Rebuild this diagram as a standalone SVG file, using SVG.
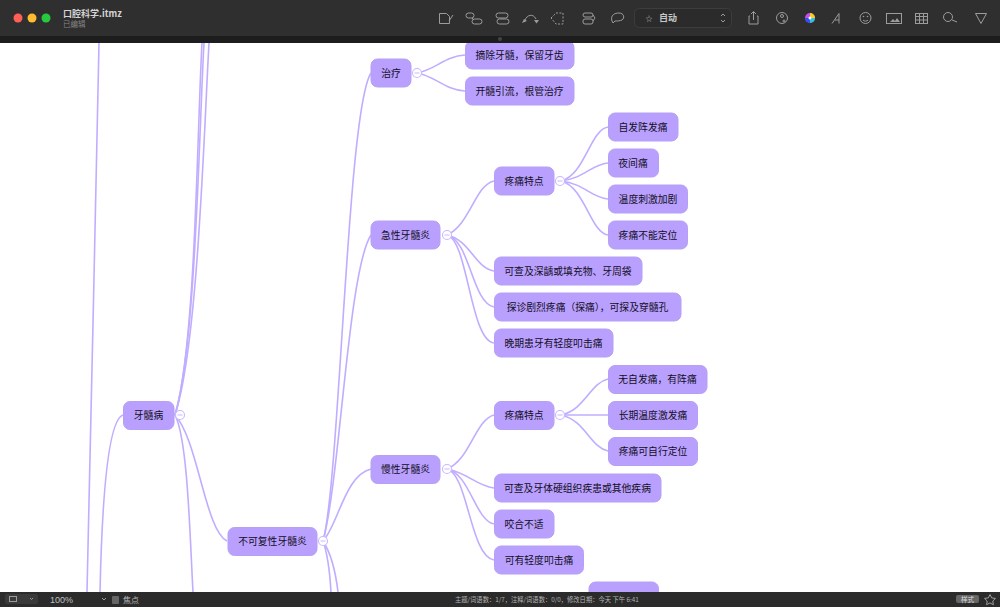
<svg xmlns="http://www.w3.org/2000/svg" width="1000" height="607" viewBox="0 0 1000 607">
<style>
.n{fill:#b9a0ff;stroke:#b5a0f4;stroke-width:1}
.t{font:400 9.800px "Noto Sans CJK SC","Liberation Sans",sans-serif;fill:#120e22;text-anchor:middle}
.c{fill:none;stroke:#c1adff;stroke-width:1.600}
.f{fill:#fff;stroke:#c9b8ff;stroke-width:1.100}
.m{stroke:#c9b8ff;stroke-width:1}
.i{fill:none;stroke:#9c9c9c;stroke-width:1}
.u{font:6.300px "Noto Sans CJK SC","Liberation Sans",sans-serif;fill:#b4b4b4}
</style>
<rect width="1000" height="607" fill="#fff"/>
<g id="connectors">
<path class="c" d="M99 43C96 200 90 450 87 592"/>
<path class="c" d="M123 415C108 420 102 500 100 592"/>
<path class="c" d="M175 415C196 345 197 130 202 43"/>
<path class="c" d="M175 415C196 345 199 130 204 43"/>
<path class="c" d="M175 415C198 345 204 130 209 43"/>
<path class="c" d="M175 415C188 440 190 540 193 592"/>
<path class="c" d="M175 415C198 440 205 530 227 541"/>
<path class="c" d="M323 541C340 480 347 110 371 73"/>
<path class="c" d="M323 541C340 480 348 270 371 235"/>
<path class="c" d="M323 541C338 525 345 475 371 469"/>
<path class="c" d="M323 541C332 555 336 575 338 592"/>
<path class="c" d="M323 541C328 555 330 575 331 592"/>
<path class="c" d="M417 73C435 70 445 56 465 55"/>
<path class="c" d="M417 73C435 76 445 90 465 91"/>
<path class="c" d="M447 235C470 225 475 185 494 181"/>
<path class="c" d="M447 235C470 240 475 268 494 271"/>
<path class="c" d="M447 235C470 240 472 303 494 307"/>
<path class="c" d="M447 235C468 240 470 340 494 343"/>
<path class="c" d="M561 181C585 175 590 130 608 127"/>
<path class="c" d="M561 181C585 178 590 165 608 163"/>
<path class="c" d="M561 181C585 184 590 197 608 199"/>
<path class="c" d="M561 181C585 187 590 232 608 235"/>
<path class="c" d="M447 469C470 460 475 420 494 415"/>
<path class="c" d="M447 469C470 474 475 485 494 488"/>
<path class="c" d="M447 469C470 474 475 520 494 524"/>
<path class="c" d="M447 469C468 474 470 556 494 560"/>
<path class="c" d="M561 415C585 410 590 383 608 379"/>
<path class="c" d="M561 415L608 415"/>
<path class="c" d="M561 415C585 420 590 447 608 451"/>
</g>
<g id="n1"><rect class="n" x="123.500" y="401.500" width="50.500" height="28" rx="6.500"/><text class="t" x="148.500" y="419">牙髓病</text></g>
<g id="n2"><rect class="n" x="228" y="527.500" width="89" height="28" rx="6.500"/><text class="t" x="272.500" y="545">不可复性牙髓炎</text></g>
<g id="n3"><rect class="n" x="371" y="59" width="40" height="28" rx="6.500"/><text class="t" x="391" y="76.500">治疗</text></g>
<g id="n4"><rect class="n" x="465.500" y="41" width="108.500" height="28" rx="6.500"/><text class="t" x="519.500" y="59">摘除牙髓，保留牙齿</text></g>
<g id="n5"><rect class="n" x="465.500" y="77" width="108.500" height="28" rx="6.500"/><text class="t" x="519.500" y="94.500">开髓引流，根管治疗</text></g>
<g id="n6"><rect class="n" x="371" y="221" width="69" height="28" rx="6.500"/><text class="t" x="405.500" y="238.500">急性牙髓炎</text></g>
<g id="n7"><rect class="n" x="494.500" y="167" width="59.500" height="28" rx="6.500"/><text class="t" x="524" y="184.500">疼痛特点</text></g>
<g id="n8"><rect class="n" x="608.500" y="113" width="69.500" height="28" rx="6.500"/><text class="t" x="643" y="130.500">自发阵发痛</text></g>
<g id="n9"><rect class="n" x="608.500" y="149" width="50" height="28" rx="6.500"/><text class="t" x="633" y="166.500">夜间痛</text></g>
<g id="n10"><rect class="n" x="608.500" y="185" width="79" height="28" rx="6.500"/><text class="t" x="648" y="202.500">温度刺激加剧</text></g>
<g id="n11"><rect class="n" x="608.500" y="221" width="79" height="28" rx="6.500"/><text class="t" x="648" y="238.500">疼痛不能定位</text></g>
<g id="n12"><rect class="n" x="494.500" y="257" width="147.500" height="28" rx="6.500"/><text class="t" x="568" y="274.500">可查及深龋或填充物、牙周袋</text></g>
<g id="n13"><rect class="n" x="494.500" y="293" width="186.500" height="28" rx="6.500"/><text class="t" x="587.500" y="310.500">探诊剧烈疼痛（探痛），可探及穿髓孔</text></g>
<g id="n14"><rect class="n" x="494.500" y="329" width="118.500" height="28" rx="6.500"/><text class="t" x="553.500" y="346.500">晚期患牙有轻度叩击痛</text></g>
<g id="n15"><rect class="n" x="371" y="455.500" width="69" height="28" rx="6.500"/><text class="t" x="405.500" y="473">慢性牙髓炎</text></g>
<g id="n16"><rect class="n" x="494.500" y="401.500" width="59.500" height="28" rx="6.500"/><text class="t" x="524" y="419">疼痛特点</text></g>
<g id="n17"><rect class="n" x="608.500" y="365.500" width="98.500" height="28" rx="6.500"/><text class="t" x="657.500" y="383">无自发痛，有阵痛</text></g>
<g id="n18"><rect class="n" x="608.500" y="401.500" width="89" height="28" rx="6.500"/><text class="t" x="653" y="419">长期温度激发痛</text></g>
<g id="n19"><rect class="n" x="608.500" y="437.500" width="89" height="28" rx="6.500"/><text class="t" x="653" y="455">疼痛可自行定位</text></g>
<g id="n20"><rect class="n" x="494.500" y="474" width="166.500" height="28" rx="6.500"/><text class="t" x="577.500" y="491.500">可查及牙体硬组织疾患或其他疾病</text></g>
<g id="n21"><rect class="n" x="494.500" y="510" width="59.500" height="28" rx="6.500"/><text class="t" x="524" y="527.500">咬合不适</text></g>
<g id="n22"><rect class="n" x="494.500" y="546" width="89" height="28" rx="6.500"/><text class="t" x="539" y="563.500">可有轻度叩击痛</text></g>
<g id="n23"><rect class="n" x="589" y="582" width="69.500" height="28" rx="6.500"/></g>
<g id="toggles">
<circle class="f" cx="180" cy="415" r="4.500"/><path class="m" d="M177.500 415h5"/>
<circle class="f" cx="323" cy="541" r="4.500"/><path class="m" d="M320.500 541h5"/>
<circle class="f" cx="417" cy="73" r="4.500"/><path class="m" d="M414.500 73h5"/>
<circle class="f" cx="447" cy="235" r="4.500"/><path class="m" d="M444.500 235h5"/>
<circle class="f" cx="560" cy="181" r="4.500"/><path class="m" d="M557.500 181h5"/>
<circle class="f" cx="447" cy="469" r="4.500"/><path class="m" d="M444.500 469h5"/>
<circle class="f" cx="560" cy="415" r="4.500"/><path class="m" d="M557.500 415h5"/>
</g>
<g id="titlebar">
<rect width="1000" height="37" fill="#2f2f2f"/>
<rect y="36" width="1000" height="7" fill="#1d1d1d"/>
<circle cx="500" cy="39" r="2" fill="#444"/>
<circle cx="18" cy="18" r="4.500" fill="#fe5f57"/>
<circle cx="32" cy="18" r="4.500" fill="#febc2e"/>
<circle cx="46" cy="18" r="4.500" fill="#27c93f"/>
<text x="63" y="16.500" style="font:bold 9px 'Noto Sans CJK SC','Liberation Sans',sans-serif;fill:#d4d4d4">口腔科学.itmz</text>
<text x="63" y="26.500" style="font:7.500px 'Noto Sans CJK SC','Liberation Sans',sans-serif;fill:#858585">已编辑</text>
<path class="i" d="M439.500 13.500h7l3 3v7h-10zM449 21l4-6"/>
<rect class="i" x="466" y="13" width="8" height="5" rx="2.500"/><rect class="i" x="472" y="19" width="10" height="5" rx="2.500"/><path class="i" d="M472 18l2 2"/>
<rect class="i" x="496" y="13" width="12" height="5" rx="2.500"/><rect class="i" x="497" y="19" width="12" height="5" rx="2.500"/>
<path class="i" d="M525 20C527 15 533 13 536 19"/><path d="M522 23l2-4 3 2zM534 20h5l-2.500 3.500z" fill="#9c9c9c"/>
<path class="i" stroke-dasharray="2 1.500" d="M551 18l5-5h7v11h-7z"/>
<rect class="i" x="583" y="13" width="10" height="4" rx="2"/><rect class="i" x="583" y="19" width="10" height="5" rx="2"/><path class="i" d="M593 15l2 3-2 3"/>
<path class="i" d="M612 21c-2-6 3-8 7-8 5 0 6 5 3 7-2 1-5 1-7 1l-2 2z"/>
<rect x="634.500" y="8.500" width="97" height="19" rx="5" fill="#2b2b2b" stroke="#3d3d3d"/>
<text x="645.500" y="20.500" style="font:7px 'Noto Sans CJK SC',sans-serif;fill:#bcbcbc">☆</text>
<text x="659" y="21" style="font:bold 9px 'Noto Sans CJK SC',sans-serif;fill:#c8c8c8">自动</text>
<path class="i" d="M721 16l2-2 2 2M721 20l2 2 2-2"/>
<path class="i" d="M750 16h-1v8h9v-8h-1M753.500 20v-8M751 14l2.500-2.500 2.500 2.500"/>
<circle class="i" cx="782" cy="18" r="5.500"/><circle class="i" cx="782" cy="16" r="1.500"/><circle class="i" cx="784" cy="21" r="1"/>
<circle cx="810" cy="18" r="5" fill="#c050e8"/><path d="M810 13a5 5 0 0 1 5 5h-5z" fill="#f0d020"/><path d="M810 18h5a5 5 0 0 1-5 5z" fill="#30c0e0"/><path d="M810 18v5a5 5 0 0 1-5-5z" fill="#3050f0"/><circle cx="810" cy="18" r="1.500" fill="#fff"/>
<path class="i" d="M832 23.500l7-10v10M835 20h4"/>
<circle class="i" cx="865.500" cy="18" r="5.500"/><circle cx="863.500" cy="16.500" r="0.800" fill="#9c9c9c"/><circle cx="867.500" cy="16.500" r="0.800" fill="#9c9c9c"/><path class="i" d="M863 20c1 1.500 4 1.500 5 0"/>
<rect class="i" x="886.500" y="13.500" width="15" height="10"/><path d="M890 22l3-3 2 2 2-3 3 4z" fill="#9c9c9c"/>
<rect class="i" x="915.500" y="13.500" width="12" height="10"/><path class="i" d="M915.500 16.500h12M915.500 20h12M919.500 13.500v10M923.500 13.500v10"/>
<circle class="i" cx="948" cy="17" r="4.500"/><path class="i" d="M952 20l5 2"/>
<path class="i" d="M975.500 13.500h11l-5.500 10z"/>
</g>
<g id="statusbar">
<rect y="592" width="1000" height="15" fill="#2b2b2b"/>
<rect x="5" y="594" width="33" height="10" rx="2" fill="#3a3a3a"/>
<rect class="i" x="9.500" y="596.500" width="7" height="5"/>
<path class="i" d="M30 598l1.500 1.500 1.500-1.500"/>
<text x="50" y="603" style="font:9px 'Liberation Sans',sans-serif;fill:#c0c0c0">100%</text>
<path class="i" d="M102 598l2 2 2-2"/>
<rect x="112" y="596" width="7" height="8" rx="1" fill="#666"/>
<text x="123" y="603" style="font:8px 'Noto Sans CJK SC',sans-serif;fill:#b4b4b4">焦点</text>
<text class="u" x="455" y="602">主题/词语数：1/7，注释/词语数：0/0，修改日期：今天 下午 6:41</text>
<rect x="956" y="595" width="23" height="8" rx="2" fill="#666"/>
<text x="967.500" y="602" text-anchor="middle" style="font:6.500px 'Noto Sans CJK SC',sans-serif;fill:#ddd">样式</text>
<path class="i" d="M990 594.500l1.700 3.400 3.800.5-2.700 2.600.6 3.700-3.400-1.800-3.400 1.800.6-3.700-2.700-2.600 3.800-.5z"/>
</g>
</svg>
